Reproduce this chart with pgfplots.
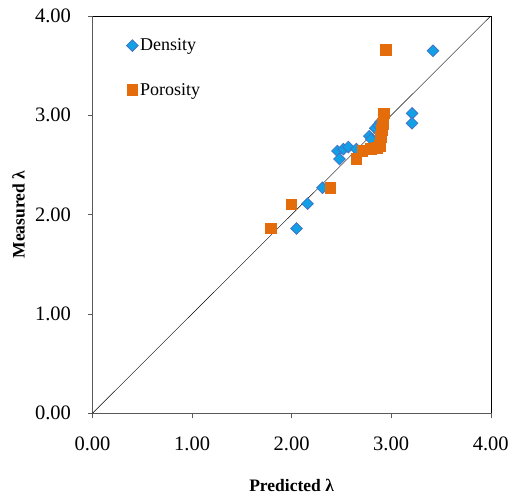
\documentclass[border=0pt]{standalone}
\usepackage{fontspec}
\setmainfont{Liberation Serif}
\usepackage{pgfplots}
\pgfplotsset{compat=1.18}

\definecolor{dblue}{RGB}{17,160,230}
\definecolor{dedge}{RGB}{68,114,196}
\definecolor{porange}{RGB}{228,108,10}

\begin{document}
\begin{tikzpicture}
\begin{axis}[
  scale only axis,
  width=398pt, height=397pt,
  xmin=0, xmax=4, ymin=0, ymax=4,
  xtick={0,1,2,3,4}, ytick={0,1,2,3,4},
  tick pos=left, tick align=outside,
  major tick length=5pt,
  tick style={gray!70!black, thin},
  axis line style={gray!70!black, thin},
  /pgf/number format/.cd, fixed, fixed zerofill, precision=2, assume math mode=true,
  /pgfplots/.cd,
  ticklabel style={font=\fontsize{20.5}{22}\selectfont},
  xticklabel style={yshift=-15pt},
  yticklabel style={xshift=-13pt},
  xlabel={\textbf{Predicted λ}},
  ylabel={\textbf{Measured λ}},
  label style={font=\fontsize{17.5}{19}\selectfont},
  xlabel style={yshift=-22pt},
  ylabel style={yshift=3.5pt},
  legend style={draw=none, fill=none, at={(0.085,0.948)}, anchor=north west,
    font=\fontsize{18}{20}\selectfont, row sep=27pt, inner sep=0pt},
  legend cell align=left,
  legend image code/.code={\draw[#1] (0pt,0pt) -- plot coordinates {(0.1cm,0cm)};},
  clip=false,
]
\addplot[only marks, mark=square*, mark size=4.1pt,
  mark options={rotate=45, fill=dblue, draw=dedge, line width=0.8pt}]
  coordinates {
  (2.05,1.86) (2.16,2.11) (2.31,2.27) (2.46,2.64) (2.48,2.56)
  (2.52,2.66) (2.57,2.68) (2.65,2.66) (2.78,2.79) (2.80,2.76)
  (2.84,2.87) (2.87,2.90) (2.89,2.93) (3.21,3.02) (3.21,2.92) (3.42,3.65)
  };
\addlegendentry{Density}
\addplot[only marks, mark=square*, mark size=5.3pt, color=porange,
  mark options={fill=porange, draw=porange, line width=0pt}]
  coordinates {
  (1.79,1.86) (2.00,2.10) (2.39,2.27) (2.65,2.56) (2.71,2.64)
  (2.80,2.66) (2.86,2.67) (2.89,2.69) (2.90,2.78) (2.91,2.85)
  (2.92,2.91) (2.93,3.02) (2.95,3.66)
  };
\addlegendentry{Porosity}
\addplot[black, thin, forget plot] coordinates {(0,0) (4,4)};
\draw[black, thin] (rel axis cs:0,1) -- (rel axis cs:1,1) -- (rel axis cs:1,0);
% page margins as in the reference
\path (rel axis cs:0,0) ++(-92.5pt,-80pt) (rel axis cs:1,1) ++(21pt,16pt);
\end{axis}
\end{tikzpicture}
\end{document}
